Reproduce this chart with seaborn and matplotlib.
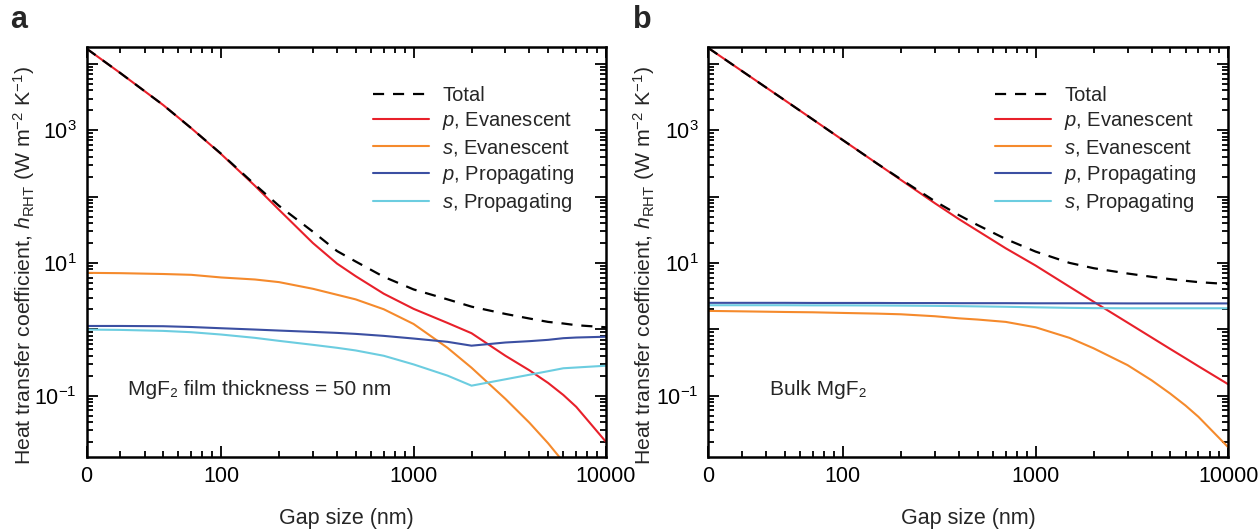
import matplotlib
matplotlib.use("Agg")
import matplotlib.pyplot as plt
import seaborn as sns
import pandas as pd
from matplotlib.ticker import FixedLocator, FixedFormatter, LogLocator, NullFormatter

# Gap sizes (nm) at which the heat transfer coefficients are tabulated
gap_nm = [20, 30, 50, 70, 100, 150, 200, 300, 400, 500, 700, 1000,
          1500, 2000, 3000, 4000, 5000, 6000, 7000, 10000]

# (a) MgF2 film, 50 nm thick  -- h_RHT in W m^-2 K^-1
film_total = [16980, 7244, 2399, 1072, 442, 151, 72.4, 29.5, 15.1, 10.5, 6.17,
              3.98, 2.82, 2.19, 1.70, 1.45, 1.29, 1.22, 1.15, 1.07]
film_p_evan = [16980, 7244, 2399, 1072, 437, 145, 63.1, 19.9, 9.77, 6.31, 3.43,
               2.03, 1.245, 0.871, 0.398, 0.240, 0.155, 0.102, 0.0676, 0.0200]
film_s_evan = [7.08, 7.00, 6.80, 6.61, 6.03, 5.62, 5.13, 4.07, 3.31, 2.82, 2.00,
               1.20, 0.525, 0.263, 0.0891, 0.0389, 0.0191, 0.0100, 0.00537, 0.00112]
film_p_prop = [1.12, 1.12, 1.11, 1.08, 1.035, 0.989, 0.955, 0.912, 0.881, 0.851, 0.794,
               0.724, 0.646, 0.565, 0.631, 0.661, 0.692, 0.733, 0.750, 0.771]
film_s_prop = [0.989, 0.977, 0.944, 0.902, 0.832, 0.741, 0.668, 0.582, 0.525, 0.479, 0.398,
               0.295, 0.200, 0.141, 0.176, 0.206, 0.233, 0.258, 0.265, 0.282]

# (b) bulk MgF2
bulk_total = [17380, 7760, 2820, 1445, 708, 316, 182, 85.1, 52.5, 37.2, 22.9,
              14.8, 10.0, 8.32, 6.92, 6.17, 5.69, 5.37, 5.13, 4.79]
bulk_p_evan = [17380, 7760, 2820, 1445, 708, 316, 178, 79.4, 45.7, 30.5, 16.6,
               9.12, 4.37, 2.60, 1.26, 0.752, 0.504, 0.365, 0.277, 0.148]
bulk_s_evan = [1.89, 1.86, 1.82, 1.80, 1.76, 1.72, 1.68, 1.57, 1.46, 1.40, 1.29,
               1.07, 0.741, 0.516, 0.288, 0.170, 0.107, 0.0708, 0.0479, 0.0166]
bulk_p_prop = [2.50, 2.50, 2.50, 2.49, 2.49, 2.49, 2.48, 2.48, 2.47, 2.47, 2.47,
               2.46, 2.46, 2.46, 2.45, 2.45, 2.45, 2.45, 2.45, 2.45]
bulk_s_prop = [2.30, 2.30, 2.30, 2.29, 2.29, 2.28, 2.27, 2.25, 2.23, 2.21, 2.18,
               2.14, 2.10, 2.08, 2.07, 2.07, 2.07, 2.07, 2.07, 2.07]

series_labels = ["Total", "$p$, Evanescent", "$s$, Evanescent",
                 "$p$, Propagating", "$s$, Propagating"]
series_colors = ["black", "#e8202a", "#f58a2c", "#3b4fa2", "#6ccde0"]

x_tick_values = [20, 100, 1000, 10000]
x_tick_labels = ["0", "100", "1000", "10000"]
y_tick_values = [1e-1, 1e0, 1e1, 1e2, 1e3, 1e4]
y_tick_labels = ["$10^{-1}$", "", "$10^{1}$", "", "$10^{3}$", ""]

panels = [
    ("a", "MgF\u2082 film thickness = 50 nm",
     [film_total, film_p_evan, film_s_evan, film_p_prop, film_s_prop]),
    ("b", "Bulk MgF\u2082",
     [bulk_total, bulk_p_evan, bulk_s_evan, bulk_p_prop, bulk_s_prop]),
]

sns.set_theme(style="ticks")
plt.rcParams["font.family"] = ["Liberation Sans", "DejaVu Sans"]
plt.rcParams["mathtext.fontset"] = "custom"
plt.rcParams["mathtext.rm"] = "Liberation Sans"
plt.rcParams["mathtext.it"] = "Liberation Sans:italic"
plt.rcParams["mathtext.bf"] = "Liberation Sans:bold"

fig = plt.figure(figsize=(12.6, 5.31), dpi=100)
axes_rects = [
    [0.0687, 0.140, 0.4123, 0.771],
    [0.5621, 0.140, 0.4127, 0.771],
]
letter_x = [0.008, 0.502]
text_x = [0.080, 0.119]
ylabel_x = [-0.095, -0.099]

for (letter, note, curves), rect, lx, tx, yx in zip(panels, axes_rects, letter_x,
                                                    text_x, ylabel_x):
    ax = fig.add_axes(rect)
    # component curves first, total on top
    for vals, lab, col in list(zip(curves, series_labels, series_colors))[1:]:
        df = pd.DataFrame({"gap": gap_nm, "h": vals})
        sns.lineplot(data=df, x="gap", y="h", ax=ax, color=col, lw=1.5, label=lab)
    df = pd.DataFrame({"gap": gap_nm, "h": curves[0]})
    sns.lineplot(data=df, x="gap", y="h", ax=ax, color=series_colors[0], lw=1.6,
                 linestyle=(0, (5, 4)), label=series_labels[0])

    ax.set_xscale("log")
    ax.set_yscale("log")
    ax.set_xlim(20, 10000)
    ax.set_ylim(0.012, 17800)

    ax.xaxis.set_major_locator(FixedLocator(x_tick_values))
    ax.xaxis.set_major_formatter(FixedFormatter(x_tick_labels))
    ax.xaxis.set_minor_locator(LogLocator(base=10, subs=range(2, 10), numticks=20))
    ax.xaxis.set_minor_formatter(NullFormatter())
    ax.yaxis.set_major_locator(FixedLocator(y_tick_values))
    ax.yaxis.set_major_formatter(FixedFormatter(y_tick_labels))
    ax.yaxis.set_minor_locator(LogLocator(base=10, subs=range(2, 10), numticks=20))
    ax.yaxis.set_minor_formatter(NullFormatter())

    ax.tick_params(which="both", direction="in", top=True, right=True,
                   width=1.3, colors="black", labelsize=15.5)
    ax.tick_params(which="major", length=8, pad=7)
    ax.tick_params(which="minor", length=4.5)
    for sp in ax.spines.values():
        sp.set_linewidth(1.8)
        sp.set_color("black")

    ax.set_xlabel("Gap size (nm)", fontsize=15.5)
    ax.set_ylabel(r"Heat transfer coefficient, $h_{\mathrm{RHT}}$ (W m$^{-2}$ K$^{-1}$)",
                  fontsize=15.3)
    ax.yaxis.set_label_coords(yx, 0.466)
    ax.xaxis.set_label_coords(0.5, -0.125)

    handles, labels = ax.get_legend_handles_labels()
    order = [labels.index(l) for l in series_labels]
    ax.legend([handles[i] for i in order], [labels[i] for i in order],
              loc="upper left", bbox_to_anchor=(0.551, 0.905), frameon=False,
              fontsize=14.5, handlelength=2.8, handletextpad=0.65,
              labelspacing=0.26, borderpad=0, borderaxespad=0)

    ax.text(tx, 0.165, note, transform=ax.transAxes, fontsize=15,
            ha="left", va="center")
    fig.text(lx, 0.962, letter, fontsize=22, fontweight="bold",
             ha="left", va="center")

fig.savefig("out.png", dpi=100)
